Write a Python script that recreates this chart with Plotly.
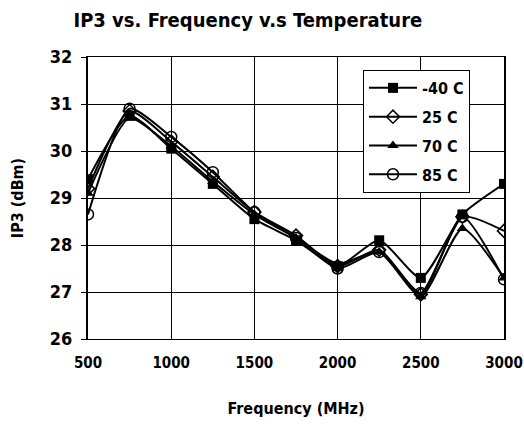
import plotly.graph_objects as go

freq = [500, 750, 1000, 1250, 1500, 1750, 2000, 2250, 2500, 2750, 3000]
ip3_m40 = [29.4, 30.75, 30.05, 29.3, 28.55, 28.1, 27.55, 28.1, 27.3, 28.65, 29.3]
ip3_25 = [29.2, 30.85, 30.2, 29.45, 28.7, 28.2, 27.55, 27.9, 26.95, 28.6, 28.3]
ip3_70 = [29.1, 30.7, 30.1, 29.35, 28.65, 28.15, 27.6, 27.85, 26.9, 28.35, 27.3]
ip3_85 = [28.65, 30.9, 30.3, 29.55, 28.7, 28.15, 27.5, 27.85, 26.98, 28.6, 27.27]

series = [
    ('-40 C', ip3_m40, dict(symbol='square', color='black', size=10)),
    ('25 C', ip3_25, dict(symbol='diamond-open', color='black', size=10, line=dict(width=1.5, color='black'))),
    ('70 C', ip3_70, dict(symbol='triangle-up', color='black', size=10)),
    ('85 C', ip3_85, dict(symbol='circle-open', color='black', size=11, line=dict(width=1.5, color='black'))),
]

FONT = 'DejaVu Sans Condensed, Liberation Sans Narrow, Arial Narrow, Liberation Sans'

fig = go.Figure()
for name, vals, marker in series:
    fig.add_trace(go.Scatter(
        x=freq, y=vals, name=name, mode='lines+markers', legendgroup=name,
        line=dict(color='black', width=2, shape='spline', smoothing=0.6),
        marker=marker,
    ))

fig.update_layout(
    width=524, height=424,
    template=None,
    paper_bgcolor='white', plot_bgcolor='white',
    font=dict(family=FONT, color='black', size=14, weight='bold'),
    title=dict(text='IP3 vs. Frequency v.s Temperature', x=0.473, xanchor='center',
               y=0.953, yanchor='middle', font=dict(size=20, weight='bold')),
    margin=dict(l=88, r=20, t=57, b=85),
    legend=dict(x=0.661, y=0.954, xanchor='left', yanchor='top',
                bgcolor='white', bordercolor='black', borderwidth=1,
                font=dict(size=16, weight='bold'), tracegroupgap=5, itemwidth=48),
    showlegend=True,
)
fig.update_xaxes(
    range=[500, 3000], dtick=500, tick0=500,
    showgrid=True, gridcolor='black', gridwidth=1,
    showline=True, linecolor='black', linewidth=1, mirror=True,
    ticks='', tickfont=dict(size=15, weight='bold'), ticklabelstandoff=10,
    ticklabeloverflow='allow',
    title=dict(text='Frequency (MHz)', font=dict(size=16, weight='bold'), standoff=31),
    zeroline=False,
)
fig.update_yaxes(
    range=[26, 32], dtick=1,
    showgrid=True, gridcolor='black', gridwidth=1,
    showline=True, linecolor='black', linewidth=2, mirror=True,
    ticks='outside', ticklen=5, tickcolor='black', tickfont=dict(size=18, weight='bold'),
    ticklabelstandoff=5,
    title=dict(text='IP3 (dBm)', font=dict(size=16, weight='bold'), standoff=22),
    zeroline=False,
)

# drop the default 8px page margin so the figure fills the window
fig.write_html('out.html', config={'displayModeBar': False},
               post_script="document.body.style.margin='0';")
